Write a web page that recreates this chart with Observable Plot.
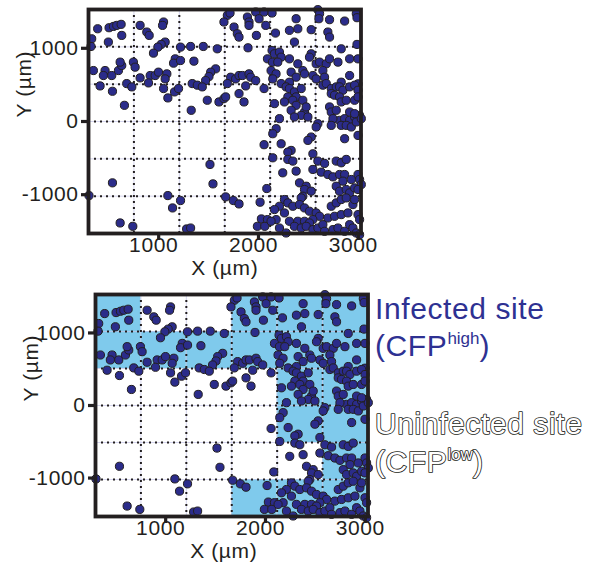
<!DOCTYPE html>
<html>
<head>
<meta charset="utf-8">
<script src="https://cdn.jsdelivr.net/npm/d3@7"></script>
<script src="https://cdn.jsdelivr.net/npm/@observablehq/plot@0.6"></script>
<style>
html, body { margin: 0; padding: 0; background: #fff; }
#wrap { position: relative; width: 601px; height: 571px; overflow: hidden; font-family: "Liberation Sans", Arial, sans-serif; }
#wrap svg { position: absolute; overflow: visible; }
#wrap svg text { letter-spacing: 0.6px; }
</style>
</head>
<body>
<div id="wrap"></div>
<script>
// Cell positions (µm)
const pointX = [
  389,503,547,580,624,630,496,329,322,814,
  881,905,1049,1039,1065,1025,992,948,1166,1149,
  346,463,446,530,597,630,614,747,764,814,
  915,965,998,1082,1065,
  1688,1654,1755,1788,1805,1889,1905,1905,1972,2006,
  2056,2073,1979,1219,1320,1447,1587,1895,2090,2140,
  1219,1353,1571,1521,1504,1470,1721,1771,1805,1839,
  1905,1922,1972,1715,2170,
  2136,2595,2612,2605,2377,2394,2310,2528,2712,2695,
  2712,2863,2980,2987,2360,2829,2987,2136,2160,2210,
  2227,2193,2310,2394,2528,2511,2578,2612,2679,2712,
  2796,2913,2997,2126,2176,2143,2327,2377,2444,2461,
  2545,2578,2645,2662,2829,2913,2997,2310,
  413,537,657,680,731,898,1049,1092,1159,1199,
  1336,1387,1437,1487,1604,1654,1671,1688,1805,1855,1872,2056,1326,2056,
  2227,2277,2310,2360,2377,2428,2294,2344,2444,2260,
  2160,2377,2461,2478,2327,2428,2360,2495,2595,2578,
  2210,2177,2143,2528,2495,2227,2327,2294,2545,2645,
  2679,2729,2779,2812,2846,2913,2963,2997,2729,2762,
  2812,2829,2879,2963,2997,2712,2729,2779,2812,2746,
  2729,2863,2913,2963,3013,2829,2879,2930,2980,3030,
  2863,2997,2913,2963,
  537,302,1092,1139,614,741,
  1514,1544,2083,1219,1671,1748,1805,2016,1280,1320,2029,2090,1989,2063,
  2143,2294,2344,2595,2662,2779,2829,2879,2243,2377,
  2545,2628,2695,2746,2812,2863,2846,2930,2997,3013,
  3030,2411,2478,2461,2528,2444,2779,2812,2879,2913,
  2963,2997,2260,2294,2210,2344,2160,2260,2177,2126,
  2428,2411,2461,2511,2578,2612,2545,2729,2779,2829,
  2879,2946,2963,2695,2762,2829,2896,2997,3013,2310,
  2394,2461,2511,2360,2428,2478,2545,2595,2645,2662,
  2746,2796,2863,2913,2946,2980,2210,2277,3013
];
const pointY = [
  1267,1281,1299,1313,1327,1176,1085,1130,1025,1313,
  1222,1176,1359,1313,1085,1053,1016,934,856,797,
  696,696,628,628,696,765,811,811,742,596,
  628,628,674,651,582,
  1450,1359,1290,1199,1153,1427,1359,1313,1496,1404,
  1496,1313,1176,1016,1025,1025,993,1007,856,811,
  833,824,719,674,614,559,605,582,628,628,
  651,605,559,1482,1208,
  1482,1528,1473,1404,1404,1267,1245,1254,1391,1222,
  1153,1372,1473,1418,1085,993,1053,970,925,948,
  879,811,856,788,925,879,788,811,788,856,
  811,856,856,696,651,582,674,605,696,651,
  628,582,696,605,537,628,514,537,
  486,413,221,518,473,527,450,322,404,450,
  518,496,473,290,267,313,336,518,381,267,486,450,153,-317,
  518,473,450,404,336,450,336,290,290,267,
  244,221,130,199,153,84,62,62,-30,-75,
  39,-98,-167,-212,-258,-304,-395,-418,-441,496,
  518,450,473,473,427,473,496,427,381,359,
  336,267,290,290,336,199,130,153,16,39,
  -53,39,16,62,84,-53,-53,-75,-7,39,
  -235,-190,130,107,
  -838,-1012,-1012,-1181,-1386,-1432,
  -587,-852,-916,-1080,-1030,-1080,-1126,-1103,-1468,-1455,-1331,-1340,-1432,-1432,
  -496,-518,-541,-541,-573,-541,-564,-518,-701,-678,
  -655,-692,-724,-756,-724,-724,-815,-792,-724,-792,
  -861,-838,-884,-929,-952,-1021,-884,-952,-929,-975,
  -907,-929,-1066,-1112,-1158,-1158,-1203,-1249,-1340,-1363,
  -1044,-1135,-1181,-1226,-1249,-1295,-1340,-1158,-1112,-1066,
  -1044,-1135,-1066,-1318,-1295,-1272,-1249,-1272,-1340,-1363,
  -1363,-1363,-1386,-1432,-1455,-1432,-1477,-1455,-1409,-1500,
  -1477,-1455,-1500,-1409,-1455,-1523,-1455,-1523,-1546
];
// Tile grid boundaries (µm)
const gridX = [297, 752, 1207, 1662, 2117, 2572, 3027];
const gridY = [1530, 1020, 510, 0, -510, -1020, -1530];
// Infected (CFP-high) tiles as [column, row] (row 0 = top)
const infectedCells = [
  [0,0],[3,0],[4,0],[5,0],
  [0,1],[1,1],[2,1],[3,1],[4,1],[5,1],
  [4,2],[5,2],
  [4,3],[5,3],
  [5,4],
  [3,5],[4,5],[5,5]
];
const xTicks = [1000, 2000, 3000];
const yTicks = [-1000, 0, 1000];
const xTitle = "X (µm)";
const yTitle = "Y (µm)";
const legendLines = [
  {main: "Infected site", sup: null, infected: true},
  {main: "(CFP", sup: "high", infected: true},
  {main: "Uninfected site", sup: null, infected: false},
  {main: "(CFP", sup: "low", infected: false}
];

const ink = "#231f20";
const dotFill = "#2b2c8a";
const infectedFill = "#7fcaec";
const infectedText = "#2e3192";

function panel(shaded, marginBottom) {
  const pts = pointX.map((x, i) => ({x, y: pointY[i]}));
  const innerX = gridX.slice(1, -1), innerY = gridY.slice(1, -1);
  const marks = [];
  if (shaded) {
    marks.push(Plot.rect(infectedCells, {
      x1: d => gridX[d[0]], x2: d => gridX[d[0] + 1],
      y1: d => gridY[d[1]], y2: d => gridY[d[1] + 1],
      fill: infectedFill
    }));
  }
  marks.push(
    Plot.ruleX(innerX, {stroke: "#c4c4e6", strokeWidth: 0.7}),
    Plot.ruleY(innerY, {stroke: "#c4c4e6", strokeWidth: 0.7}),
    Plot.ruleX(innerX, {stroke: ink, strokeWidth: 2, strokeDasharray: "2,4"}),
    Plot.ruleY(innerY, {stroke: ink, strokeWidth: 2, strokeDasharray: "2,4"}),
    Plot.dot(pts, {x: "x", y: "y", r: 4.1, fill: dotFill, stroke: ink, strokeWidth: 1}),
    Plot.frame({stroke: ink, strokeWidth: 3.8}),
    Plot.axisX(xTicks, {tickSize: 7, strokeWidth: 3.2, tickFormat: () => "", label: null}),
    Plot.axisY(yTicks, {tickSize: 7, strokeWidth: 3.2, tickFormat: () => "", label: null}),
    Plot.text(xTicks, {x: d => d, text: d => String(d), frameAnchor: "bottom", lineAnchor: "top", dy: 4, dx: -5, fontSize: 21}),
    Plot.text(yTicks, {y: d => d, text: d => String(d), frameAnchor: "left", textAnchor: "end", dx: -10, fontSize: 21}),
    Plot.text([xTitle], {text: d => d, frameAnchor: "bottom", dy: 41, dx: shaded ? -8 : 0, fontSize: 21}),
    Plot.text([yTitle], {text: d => d, frameAnchor: "left", rotate: -90, dx: -64, dy: -4, fontSize: 21})
  );
  return Plot.plot({
    width: 380, height: 285,
    marginLeft: 88, marginRight: 19.5, marginTop: 9, marginBottom,
    x: {domain: [gridX[0], gridX[gridX.length - 1]]},
    y: {domain: [gridY[gridY.length - 1], gridY[0]]},
    style: {fontFamily: "'Liberation Sans', Arial, sans-serif", fontSize: "21px", color: ink, background: "transparent", overflow: "visible"},
    marks
  });
}

const wrap = document.getElementById("wrap");
const topPanel = panel(false, 52);
topPanel.style.left = "0px"; topPanel.style.top = "0px";
wrap.appendChild(topPanel);
const bottomPanel = panel(true, 54);
bottomPanel.style.left = "7px"; bottomPanel.style.top = "285px";
wrap.appendChild(bottomPanel);

// Legend (annotation at the right of the lower panel)
const baselines = [318.5, 356, 433.5, 471.5];
const leg = d3.create("svg")
  .attr("width", 230).attr("height", 200)
  .style("left", "370px").style("top", "285px")
  .style("font-family", "'Liberation Sans', Arial, sans-serif");
legendLines.forEach((l, i) => {
  const t = leg.append("text")
    .attr("x", 5).attr("y", baselines[i] - 285)
    .attr("font-size", 30)
    .style("letter-spacing", "0.6px");
  if (l.infected) {
    t.attr("fill", infectedText);
  } else {
    t.attr("fill", "#ffffff").attr("stroke", ink).attr("stroke-width", 1.7)
      .attr("stroke-linejoin", "round").style("paint-order", "stroke");
  }
  t.append("tspan").text(l.main);
  if (l.sup) {
    t.append("tspan").attr("font-size", 17).attr("dy", -12).style("letter-spacing", "0px").text(l.sup);
    t.append("tspan").attr("dy", 12).text(")");
  }
});
wrap.appendChild(leg.node());
</script>
</body>
</html>
